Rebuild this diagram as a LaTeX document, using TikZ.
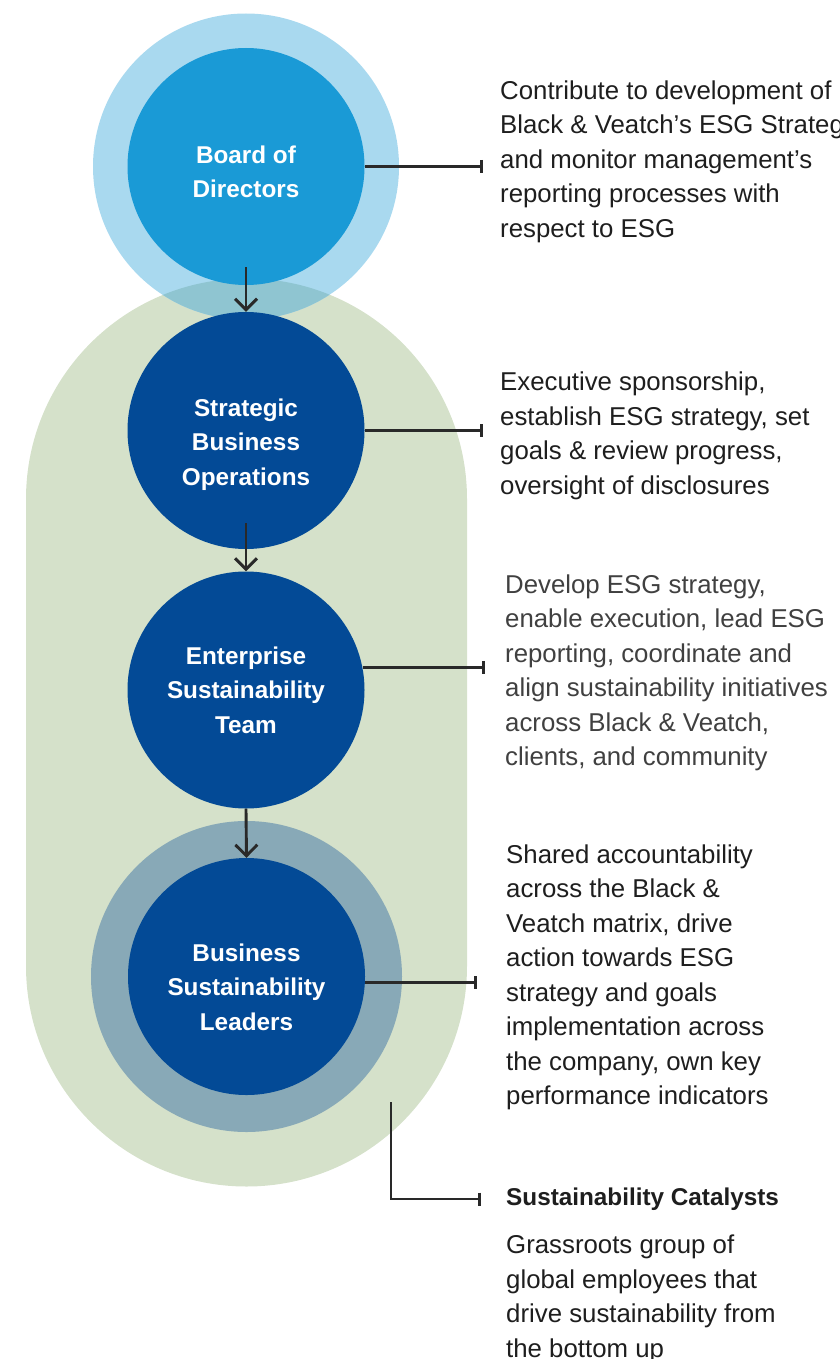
\documentclass[tikz,border=0pt]{standalone}
\usepackage{fontspec}
\setmainfont{Liberation Sans}
\usetikzlibrary{arrows.meta}

\definecolor{skyring}{HTML}{A9D9EF}
\definecolor{boardblue}{HTML}{1A9AD6}
\definecolor{navy}{HTML}{034A96}
\definecolor{sage}{HTML}{D5E1CA}
\definecolor{overlap}{HTML}{8FC5D1}
\definecolor{slate}{HTML}{88A9B7}
\definecolor{ink}{HTML}{1E1E1E}

\tikzset{
  unit/.style={circle, fill=navy, minimum size=237pt, inner sep=0pt},
  unittext/.style={text=white, align=center, inner sep=0pt, font=\bfseries\fontsize{24.3}{34.5}\selectfont},
  duty/.style={anchor=north west, align=left, inner sep=0pt, text=ink, font=\fontsize{25.8}{34.5}\selectfont},
  link/.style={draw=ink!95, line width=2.9pt, -{Bar[width=13pt]}},
  flow/.style={draw=ink!95, line width=2.9pt, -{Straight Barb[length=11pt,width=22pt]}}
}

\begin{document}
\begin{tikzpicture}[x=1pt, y=-1pt]
		%%%%% BACKGROUND %%%%%
		\useasboundingbox (0,0) rectangle (839,1359);
		
		\fill[sage] (26,499) arc (180:0:220.5pt) -- (467,966) arc (0:-180:220.5pt) -- cycle;
		\fill[skyring] (246,166.5) circle (153pt);
		\begin{scope}
			\clip (246,166.5) circle (153pt);
			\fill[overlap] (26,499) arc (180:0:220.5pt) -- (467,966) arc (0:-180:220.5pt) -- cycle;
		\end{scope}
		\fill[slate] (246.5,976.5) circle (155.5pt);
		
		%%%%% UNITS %%%%%
		\node[unit, fill=boardblue, label={[unittext, yshift=-5.5pt]center:{Board of\\Directors}}] (board) at (246,166.5) {};
		\node[unit, label={[unittext, yshift=-14pt]center:{Strategic\\Business\\Operations}}] (sbo) at (246,430.5) {};
		\node[unit, label={[unittext]center:{Enterprise\\Sustainability\\Team}}] (est) at (246,690) {};
		\node[unit, label={[unittext, yshift=-10.5pt]center:{Business\\Sustainability\\Leaders}}] (bsl) at (246.5,976.5) {};
		
		\draw[flow] ([yshift=18pt]board.south) -- (sbo.north);
		\draw[flow] ([yshift=26pt]sbo.south) -- (est.north);
		\draw[flow] (est.south) -- (bsl.north);
		
		%%%%% ROLES %%%%%
		\coordinate (boardbar) at (483,168);
		\coordinate (sbobar) at (483,434);
		\coordinate (estbar) at (485,667);
		\coordinate (bslbar) at (477,983);
		\coordinate (cattop) at (391,1102);
		\coordinate (catbar) at (481,1199);
		
		\draw[link] (board.east) -- (board.east -| boardbar);
		\draw[link] (sbo.east) -- (sbo.east -| sbobar);
		\draw[link] (est.11) -- (est.11 -| estbar);
		\draw[link] (bsl.-3) -- (bsl.-3 -| bslbar);
		\draw[link] (cattop) |- (catbar);
		
		\node[duty] (boardtxt) at (500,80.4) {Contribute to development of\\Black \& Veatch’s ESG Strategy\\and monitor management’s\\reporting processes with\\respect to ESG};
		\node[duty] (sbotxt) at (500,372.1) {Executive sponsorship,\\establish ESG strategy, set\\goals \& review progress,\\oversight of disclosures};
		\node[duty, text=ink!85] (esttxt) at (505,574.4) {Develop ESG strategy,\\enable execution, lead ESG\\reporting, coordinate and\\align sustainability initiatives\\across Black \& Veatch,\\clients, and community};
		\node[duty] (bsltxt) at (506,844.4) {Shared accountability\\across the Black \&\\Veatch matrix, drive\\action towards ESG\\strategy and goals\\implementation across\\the company, own key\\performance indicators};
		\node[duty, font=\bfseries\fontsize{24.3}{34.5}\selectfont] (cattitle) at (506,1187.5) {Sustainability Catalysts};
		\node[duty] (cattxt) at (506,1234.9) {Grassroots group of\\global employees that\\drive sustainability from\\the bottom up};
		
		%%%%% END %%%%%
	\end{tikzpicture}
\end{document}
